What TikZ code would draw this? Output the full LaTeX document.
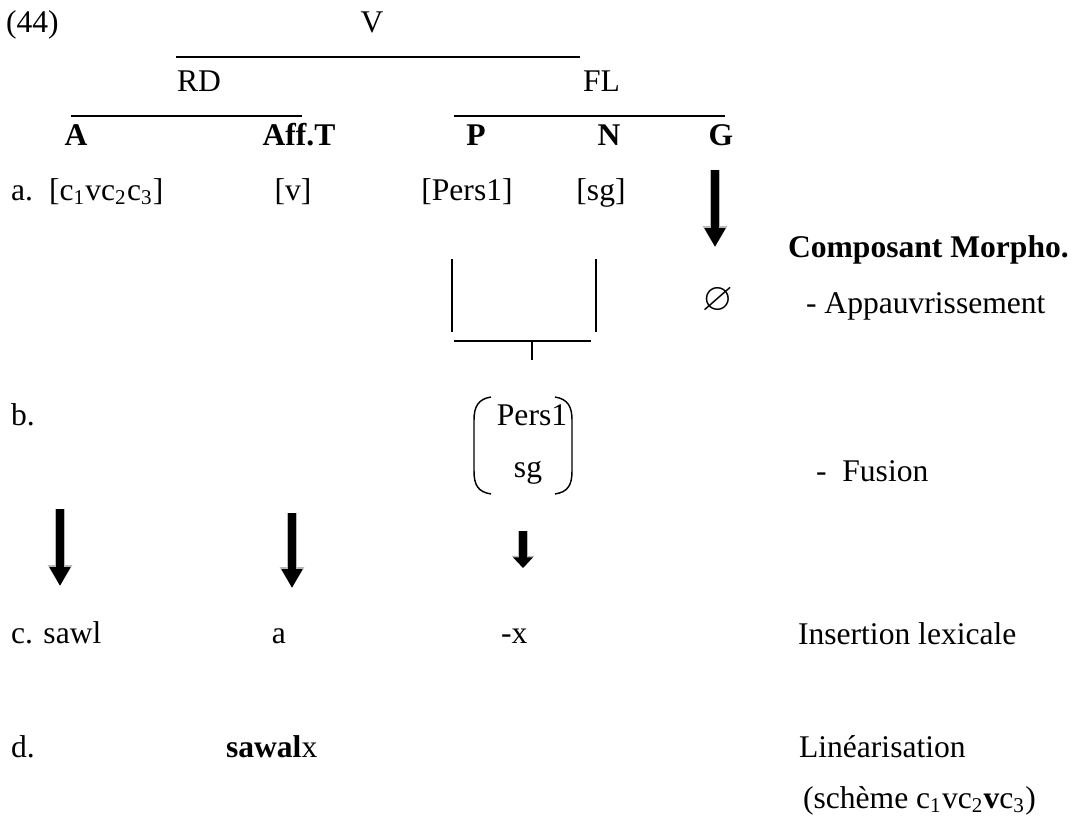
\documentclass[tikz,border=0pt]{standalone}
\usepackage{amssymb}
\usepackage{fontspec}
\setmainfont{Liberation Serif}
\usetikzlibrary{arrows.meta}
\tikzset{
  every picture/.style={line width=0.8pt},
  word/.style={inner sep=0pt, anchor=base west, font=\fontsize{12}{14}\selectfont},
  cword/.style={word, anchor=base},
  catword/.style={cword, font=\fontsize{12}{14}\selectfont\bfseries},
  bar/.style={draw=black, line width=0.8pt},
  paren/.style={draw=black, line width=0.55pt},
  fatarrow/.style={draw=black, line width=3pt, -{Triangle[width=7.6pt,length=7.2pt]},
    preaction={draw=black!28, line width=3.9pt, -{Triangle[width=8.8pt,length=7.9pt]}}},
  stubarrow/.style={draw=black, line width=3pt, -{Triangle[width=7.2pt,length=4pt]},
    preaction={draw=black!28, line width=3.9pt, -{Triangle[width=8.4pt,length=4.6pt]}}}
}
\begin{document}
\begin{tikzpicture}[x=0.38pt, y=-0.38pt]
  \useasboundingbox (0,0) rectangle (1073,819);

  % tree
  \node[word] (ex) at (5,33) {(44)};
  \node[cword] (v) at (372,33) {V};
  \draw[bar] (176,57) -- (580,57);
  \node[word] (rd) at (176,92) {RD};
  \node[word] (fl) at (582,92) {FL};
  \draw[bar] (71,116) -- (302,116);
  \draw[bar] (454,116) -- (725,116);
  \node[catword] (a) at (76,145) {A};
  \node[catword] (afft) at (299,145) {Aff.T};
  \node[catword] (p) at (476,145) {P};
  \node[catword] (n) at (609,145) {N};
  \node[catword] (g) at (721,145) {G};

  % a.
  \node[word] (la) at (10,200) {a.};
  \node[word] (root) at (48,200) {[c\textsubscript{1}vc\textsubscript{2}c\textsubscript{3}]};
  \node[cword] (tv) at (293,200) {[v]};
  \node[cword] (pers) at (467,200) {[Pers1]};
  \node[cword] (sg) at (601,200) {[sg]};
  \coordinate (gtop) at (715,170);
  \coordinate (gbot) at (715,247);
  \draw[fatarrow] (gtop) -- (gbot);
  \node[word] (morpho) at (787,257) {\bfseries Composant Morpho.};
  \node[inner sep=0pt, font=\fontsize{15}{17}\selectfont] (empty) at (718,301) {$\varnothing$};
  \node[word] (appauv) at (805,313) {- Appauvrissement};

  % fusion bracket
  \draw[bar] (452,259) -- (452,332);
  \draw[bar] (596,259) -- (596,332);
  \draw[bar] (454,341) -- (591,341);
  \draw[bar] (532,341) -- (532,360);

  % b.
  \node[word] (lb) at (10,425) {b.};
  \node[cword] (fpers) at (532,425) {Pers1};
  \node[cword] (fsg) at (528,477) {sg};
  \draw[paren] (491,397) .. controls (478,399) and (474,407) .. (474,420)
    -- (474,471) .. controls (474,485) and (478,492) .. (491,494);
  \draw[paren] (555,397) .. controls (568,399) and (572,407) .. (572,420)
    -- (572,471) .. controls (572,485) and (568,492) .. (555,494);
  \node[word] (fusion) at (815,481) {-\ \ Fusion};

  \coordinate (atop) at (60,509);
  \coordinate (abot) at (60,586);
  \coordinate (ttop) at (292,513);
  \coordinate (tbot) at (292,588);
  \coordinate (ftop) at (523,531);
  \coordinate (fbot) at (523,568);
  \draw[fatarrow] (atop) -- (abot);
  \draw[fatarrow] (ttop) -- (tbot);
  \draw[stubarrow] (ftop) -- (fbot);

  % c.
  \node[word] (lc) at (10,643) {c. sawl};
  \node[cword] (ca) at (279,643) {a};
  \node[word] (cx) at (500,643) {-x};
  \node[word] (insert) at (797,644) {Insertion lexicale};

  % d.
  \node[word] (ld) at (10,757) {d.};
  \node[word] (form) at (225,757) {\textbf{sawal}x};
  \node[word] (linear) at (798,757) {Linéarisation};
  \node[word] (scheme) at (802,808) {(schème c\textsubscript{1}vc\textsubscript{2}\textbf{v}c\textsubscript{3})};
\end{tikzpicture}
\end{document}
